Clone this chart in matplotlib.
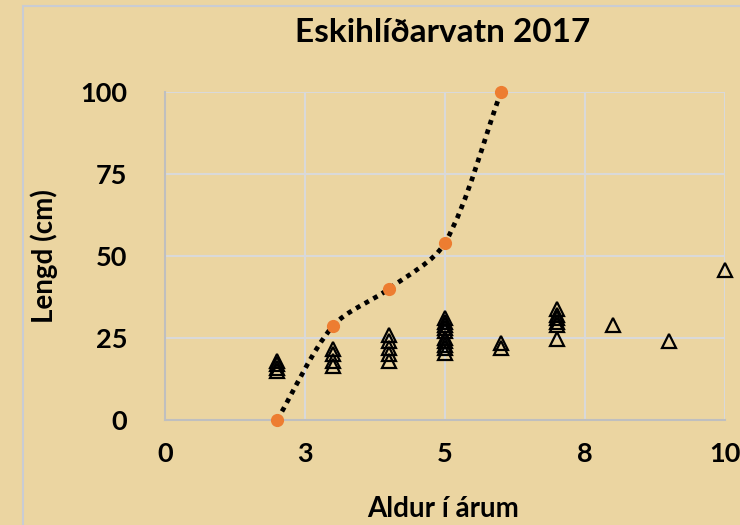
import matplotlib.pyplot as plt
import numpy as np
from matplotlib.patches import PathPatch, Rectangle
from matplotlib.path import Path

plt.rcParams["font.family"] = ["Lato", "DejaVu Sans"]
plt.rcParams["font.weight"] = "bold"

# measured fish (age in years, length in cm)
fish_age = [2, 2, 2, 2,
            3, 3, 3, 3,
            4, 4, 4, 4, 4,
            5, 5, 5, 5, 5, 5, 5, 5, 5, 5,
            6, 6,
            7, 7, 7, 7, 7, 7,
            8, 9, 10]
fish_length = [15, 16, 17, 18,
               16.5, 18, 20, 21.5,
               18, 20, 22, 24, 26,
               20.5, 22, 23, 24, 25, 27, 28, 29, 30, 31,
               22, 23.5,
               24.7, 29, 30, 31, 32, 33.8,
               29, 24, 45.7]

# growth curve
curve_age = [2, 3, 4, 5, 6]
curve_length = [0, 28.7, 40, 54, 100]

x_ticks = [0, 2.5, 5, 7.5, 10]
x_tick_labels = ["0", "3", "5", "8", "10"]
y_ticks = [0, 25, 50, 75, 100]


def smooth_path(ax, xs, ys, s=0.3):
    # smoothed line: bezier handles scaled by segment length on screen
    pts = ax.transData.transform(np.column_stack([xs, ys]))
    n = len(pts)
    seg = np.hypot(*np.diff(pts, axis=0).T)
    tang = np.array([pts[min(i + 1, n - 1)] - pts[max(i - 1, 0)] for i in range(n)])
    verts = [pts[0]]
    codes = [Path.MOVETO]
    for i in range(n - 1):
        d_prev = seg[i - 1] if i > 0 else 0
        d_next = seg[i + 1] if i < n - 2 else 0
        c1 = pts[i] + tang[i] * s * seg[i] / (d_prev + seg[i])
        c2 = pts[i + 1] - tang[i + 1] * s * seg[i] / (seg[i] + d_next)
        verts += [c1, c2, pts[i + 1]]
        codes += [Path.CURVE4] * 3
    verts = ax.transData.inverted().transform(np.array(verts))
    return Path(verts, codes)


bg = "#EBD5A1"
fig = plt.figure(figsize=(7.4, 5.25), dpi=100, facecolor=bg)
fig.patches.append(Rectangle((23 / 740, -0.1), 1.2, 1 - 6 / 525 + 0.1,
                             transform=fig.transFigure, fill=False,
                             edgecolor="#C9CCD3", linewidth=1.5))

ax = fig.add_axes([165 / 740, 1 - 420 / 525, 560 / 740, 328 / 525])
ax.set_facecolor("none")
ax.set_xlim(0, 10)
ax.set_ylim(0, 100)
ax.set_xticks(x_ticks)
ax.set_xticklabels(x_tick_labels)
ax.set_yticks(y_ticks)
ax.grid(True, color="#D9D9D9", linewidth=1.5)
ax.set_axisbelow(True)
for side in ["top", "right"]:
    ax.spines[side].set_visible(False)
for side in ["left", "bottom"]:
    ax.spines[side].set_color("#BFBFBF")
    ax.spines[side].set_linewidth(1.5)
ax.tick_params(length=0, labelsize=19.5)
ax.tick_params(axis="y", pad=27)
ax.tick_params(axis="x", pad=16)

ax.add_patch(PathPatch(smooth_path(ax, curve_age, curve_length), fill=False,
                       edgecolor="black", linewidth=3.4,
                       linestyle=(0, (1, 1.1)), capstyle="butt", zorder=3))
ax.plot(curve_age, curve_length, "o", color="#ED7D31", markersize=9.5,
        markeredgewidth=0, zorder=4, clip_on=False)
ax.plot(fish_age, fish_length, "^", markerfacecolor="none",
        markeredgecolor="black", markersize=10, markeredgewidth=1.6,
        zorder=5, clip_on=False)

fig.text(443 / 740, 1 - 33 / 525, "Eskihlíðarvatn 2017", ha="center",
         va="center", fontsize=24, fontweight="bold")
fig.text(443 / 740, 1 - 509 / 525, "Aldur í árum", ha="center",
         va="center", fontsize=20, fontweight="bold")
fig.text(44 / 740, 1 - 256 / 525, "Lengd (cm)", ha="center",
         va="center", rotation=90, fontsize=20, fontweight="bold")

fig.savefig("out.png", dpi=100, facecolor=bg)
